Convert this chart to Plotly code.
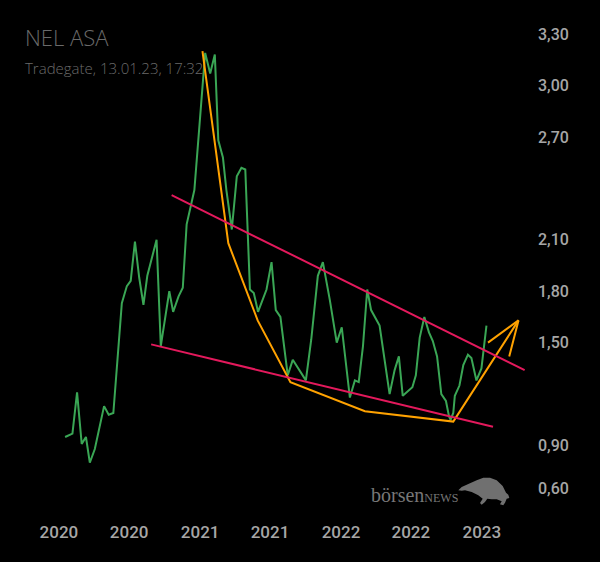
import plotly.graph_objects as go

# ---- data ----
price_dates = [
    "2020-01-17", "2020-02-05", "2020-02-17", "2020-02-29", "2020-03-11", "2020-03-21", "2020-04-03", "2020-04-27", "2020-05-09", "2020-05-21",
    "2020-06-12", "2020-06-25", "2020-07-05", "2020-07-16", "2020-07-27", "2020-08-07", "2020-08-17", "2020-09-10", "2020-09-21", "2020-10-13",
    "2020-10-23", "2020-11-06", "2020-11-17", "2020-11-27", "2020-12-17", "2020-12-27", "2021-01-14", "2021-01-27", "2021-02-08", "2021-02-17",
    "2021-03-01", "2021-03-10", "2021-03-24", "2021-04-06", "2021-04-18", "2021-04-28", "2021-05-10", "2021-05-20", "2021-05-31", "2021-06-22",
    "2021-07-05", "2021-07-16", "2021-07-28", "2021-08-16", "2021-08-29", "2021-10-02", "2021-10-16", "2021-11-02", "2021-11-15", "2021-12-03",
    "2021-12-21", "2022-01-03", "2022-01-24", "2022-02-06", "2022-02-16", "2022-02-27", "2022-03-10", "2022-03-20", "2022-04-03", "2022-04-11",
    "2022-05-07", "2022-05-20", "2022-05-31", "2022-06-10", "2022-07-05", "2022-07-14", "2022-07-24", "2022-08-05", "2022-08-17", "2022-08-27",
    "2022-09-07", "2022-09-18", "2022-09-30", "2022-10-08", "2022-10-12", "2022-10-19", "2022-10-23", "2022-11-04", "2022-11-14", "2022-11-26",
    "2022-12-05", "2022-12-18", "2022-12-31", "2023-01-05", "2023-01-13",
]
price_values = [
    0.95, 0.97, 1.21, 0.91, 0.95, 0.80, 0.88, 1.13, 1.08, 1.09,
    1.73, 1.83, 1.86, 2.09, 1.88, 1.72, 1.89, 2.10, 1.48, 1.80,
    1.68, 1.77, 1.82, 2.19, 2.39, 2.68, 3.19, 3.07, 3.18, 2.68,
    2.58, 2.39, 2.16, 2.47, 2.52, 2.51, 1.81, 1.79, 1.68, 1.81,
    1.97, 1.69, 1.65, 1.31, 1.40, 1.28, 1.52, 1.89, 1.97, 1.75,
    1.50, 1.59, 1.18, 1.28, 1.27, 1.48, 1.81, 1.69, 1.63, 1.60,
    1.20, 1.34, 1.42, 1.19, 1.24, 1.31, 1.53, 1.65, 1.56, 1.51,
    1.42, 1.20, 1.16, 1.07, 1.05, 1.09, 1.19, 1.25, 1.37, 1.43,
    1.41, 1.28, 1.35, 1.46, 1.60,
]

trend_dates = ["2021-01-07", "2021-03-15", "2021-05-30", "2021-08-23", "2022-03-04", "2022-10-19", "2023-04-06"]
trend_values = [3.20, 2.08, 1.63, 1.27, 1.10, 1.04, 1.63]

arrow_dates = ["2023-01-17", "2023-04-06", "2023-03-13"]
arrow_values = [1.50, 1.63, 1.42]

upper_dates = ["2020-10-19", "2023-04-22"]
upper_values = [2.36, 1.34]
lower_dates = ["2020-08-27", "2023-01-30"]
lower_values = [1.49, 1.01]

x_tick_dates = ["2020-01-01", "2020-07-01", "2021-01-01", "2021-07-01", "2022-01-01", "2022-07-01", "2023-01-01"]
x_tick_labels = ["2020", "2020", "2021", "2021", "2022", "2022", "2023"]
y_tick_values = [3.30, 3.00, 2.70, 2.10, 1.80, 1.50, 0.90, 0.65]
y_tick_labels = ["3,30", "3,00", "2,70", "2,10", "1,80", "1,50", "0,90", "0,60"]

title_text = "NEL ASA"
subtitle_text = "Tradegate, 13.01.23, 17:32"

# ---- styles / layout ----
GREEN = "#3aa655"
ORANGE = "#ffa200"
PINK = "#e3195c"
W, H = 600, 562
ML, MR, MT, MB = 30, 63, 10, 42
PW, PH = W - ML - MR, H - MT - MB


def px_to_paper(px, py):
    return (px - ML) / PW, (H - MB - py) / PH


fig = go.Figure()
fig.add_trace(go.Scatter(x=price_dates, y=price_values, mode="lines",
                         line=dict(color=GREEN, width=2), hoverinfo="skip"))
fig.add_trace(go.Scatter(x=trend_dates, y=trend_values, mode="lines",
                         line=dict(color=ORANGE, width=2), hoverinfo="skip"))
fig.add_trace(go.Scatter(x=arrow_dates, y=arrow_values, mode="lines",
                         line=dict(color=ORANGE, width=2), hoverinfo="skip"))
fig.add_trace(go.Scatter(x=upper_dates, y=upper_values, mode="lines",
                         line=dict(color=PINK, width=2), hoverinfo="skip"))
fig.add_trace(go.Scatter(x=lower_dates, y=lower_values, mode="lines",
                         line=dict(color=PINK, width=2), hoverinfo="skip"))

# logo bull silhouette (decorative, page pixels)
bull_px = [(458.3, 490.3), (461.7, 487), (468.3, 484), (476.7, 480.3), (483.3, 477.7), (490, 477.7),
           (496.7, 480.3), (502.7, 486), (506, 492.7), (508.3, 494.7), (509.3, 498), (506.7, 498.7),
           (505, 502.7), (503.3, 505.3), (500, 504.3), (501.7, 501.3), (496.7, 499.3), (491.7, 499.3),
           (487.3, 498.7), (485, 502), (481.7, 504.7), (480, 503), (482.7, 498.7), (478.3, 495.3),
           (471.7, 492), (465, 490.3), (461.7, 490.8)]
pts = [px_to_paper(a, b) for a, b in bull_px]
path = "M " + " L ".join(f"{a:.4f},{b:.4f}" for a, b in pts) + " Z"
fig.add_shape(type="path", xref="paper", yref="paper", path=path,
              fillcolor="#707070", line=dict(width=0), layer="above")

tx, ty = px_to_paper(23, 37)
sx, sy = px_to_paper(23, 67.7)
lx, ly = px_to_paper(369, 495)
fig.add_annotation(text=title_text, xref="paper", yref="paper", x=tx, y=ty,
                   xanchor="left", yanchor="middle", showarrow=False,
                   font=dict(family="Open Sans", size=22, color="#6a6a6a", weight=300))
fig.add_annotation(text=subtitle_text, xref="paper", yref="paper", x=sx, y=sy,
                   xanchor="left", yanchor="middle", showarrow=False,
                   font=dict(family="Open Sans", size=15, color="#6a6a6a", weight=300))
fig.add_annotation(text="börsen<span style='font-size:12px'>NEWS</span>", xref="paper", yref="paper",
                   x=lx, y=ly, xanchor="left", yanchor="middle", showarrow=False,
                   font=dict(family="Liberation Serif", size=20, color="#777777"))

fig.update_layout(
    width=W, height=H,
    margin=dict(l=ML, r=MR, t=MT, b=MB),
    paper_bgcolor="#000000", plot_bgcolor="#000000",
    showlegend=False,
    xaxis=dict(type="date", range=["2019-10-18", "2023-05-24"], tickvals=x_tick_dates,
               ticktext=x_tick_labels, showgrid=False, zeroline=False, showline=False,
               ticks="", tickfont=dict(family="Roboto", size=17, color="#a6a6a6", weight=500),
               fixedrange=True),
    yaxis=dict(range=[0.466, 3.44], side="right", tickvals=y_tick_values, ticktext=y_tick_labels,
               showgrid=False, zeroline=False, showline=False, ticks="",
               tickfont=dict(family="Roboto", size=16, color="#a6a6a6", weight=500),
               fixedrange=True),
)

fig.write_html("out.html")
